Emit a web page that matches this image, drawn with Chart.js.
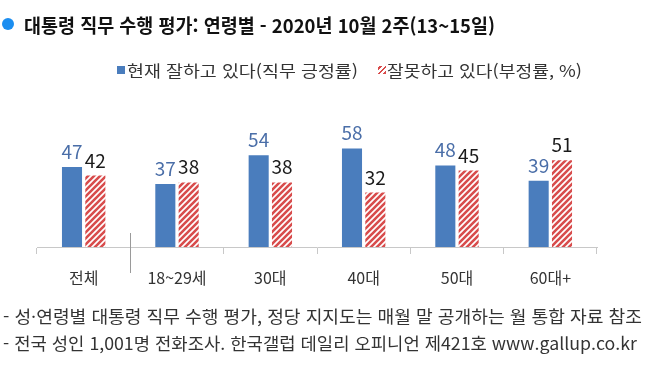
<!DOCTYPE html>
<html lang="ko">
<head>
<meta charset="utf-8">
<script src="https://cdn.jsdelivr.net/npm/chart.js@4"></script>
<style>
  html, body { margin: 0; padding: 0; background: #fff; }
  #wrap { position: relative; width: 648px; height: 368px; overflow: hidden; font-family: "Noto Sans CJK KR", "Noto Sans", sans-serif; }
  #chart { position: absolute; left: 0; top: 0; }
  .txt { position: absolute; white-space: nowrap; transform-origin: 0 50%; line-height: 1; }
  #dot { position: absolute; left: 2px; top: 18px; width: 12px; height: 12px; border-radius: 50%; background: #1c8ef0; }
  .sw { position: absolute; width: 8px; height: 8px; }
</style>
</head>
<body>
<div id="wrap">
  <canvas id="chart" width="648" height="368"></canvas>
  <div id="dot"></div>
  <div class="txt" id="title" data-w="471" style="left:24px; top:15px; font-size:19px; font-weight:bold; color:#111;"></div>
  <div class="sw" style="left:117px; top:66px; background:#4a7dbd;"></div>
  <div class="txt" id="leg1" data-w="231" style="left:127px; top:62px; font-size:16px; color:#333;"></div>
  <div class="sw" style="left:378px; top:66px; background:repeating-linear-gradient(135deg, #fff 0 1px, #d84c4c 1px 3px, #fff 3px 4px);"></div>
  <div class="txt" id="leg2" data-w="195" style="left:387px; top:62px; font-size:16px; color:#333;"></div>
  <div class="txt" id="note1" data-w="639" style="left:3px; top:307px; font-size:17px; color:#333;"></div>
  <div class="txt" id="note2" data-w="634" style="left:3px; top:334px; font-size:17px; color:#333;"></div>
</div>
<script>
// 데이터
const categories = ['전체', '18~29세', '30대', '40대', '50대', '60대+'];
const approve = [47, 37, 54, 58, 48, 39];
const disapprove = [42, 38, 38, 32, 45, 51];
const seriesNames = ['현재 잘하고 있다(직무 긍정률)', '잘못하고 있다(부정률, %)'];
const titleText = '대통령 직무 수행 평가: 연령별 - 2020년 10월 2주(13~15일)';
const notes = [
    '- 성·연령별 대통령 직무 수행 평가, 정당 지지도는 매월 말 공개하는 월 통합 자료 참조',
    '- 전국 성인 1,001명 전화조사. 한국갤럽 데일리 오피니언 제421호 www.gallup.co.kr'
];

const blue = '#4a7dbd';
const red = '#d84c4c';

// 텍스트 채우기 + 폭 맞추기
document.getElementById('title').textContent = titleText;
document.getElementById('leg1').textContent = seriesNames[0];
document.getElementById('leg2').textContent = seriesNames[1];
document.getElementById('note1').textContent = notes[0];
document.getElementById('note2').textContent = notes[1];
document.querySelectorAll('.txt').forEach(el => {
    const target = parseFloat(el.dataset.w);
    const w = el.getBoundingClientRect().width;
    if (w > 0) el.style.transform = 'scaleX(' + (target / w) + ')';
});

// 빗금 패턴
function makeHatch(color) {
    const s = 6;
    const c = document.createElement('canvas');
    c.width = s; c.height = s;
    const g = c.getContext('2d');
    g.fillStyle = '#fff';
    g.fillRect(0, 0, s, s);
    g.strokeStyle = color;
    g.lineWidth = 2.6;
    g.beginPath();
    g.moveTo(-1, s + 1); g.lineTo(s + 1, -1);
    g.moveTo(-1, 1); g.lineTo(1, -1);
    g.moveTo(s - 1, s + 1); g.lineTo(s + 1, s - 1);
    g.stroke();
    return g.createPattern(c, 'repeat');
}

// 막대 위 값 표시
const valueLabels = {
    id: 'valueLabels',
    afterDatasetsDraw(chart) {
        const ctx = chart.ctx;
        ctx.save();
        ctx.font = '19px "Noto Sans CJK KR", sans-serif';
        ctx.textAlign = 'center';
        ctx.textBaseline = 'alphabetic';
        chart.data.datasets.forEach((ds, i) => {
            ctx.fillStyle = ds.labelColor;
            chart.getDatasetMeta(i).data.forEach((bar, j) => {
                ctx.fillText(ds.data[j], bar.x, bar.y - 8);
            });
        });
        ctx.restore();
    }
};

// 전체 / 연령대 구분선
const separator = {
    id: 'separator',
    afterDraw(chart) {
        const xs = chart.scales.x;
        const x = Math.round((xs.getPixelForTick(0) + xs.getPixelForTick(1)) / 2) + 0.5;
        const b = chart.chartArea.bottom;
        const ctx = chart.ctx;
        ctx.save();
        ctx.strokeStyle = '#9a9a9a';
        ctx.lineWidth = 1;
        ctx.beginPath();
        ctx.moveTo(x, b - 14);
        ctx.lineTo(x, b + 26);
        ctx.stroke();
        ctx.restore();
    }
};

new Chart(document.getElementById('chart'), {
    type: 'bar',
    data: {
        labels: categories,
        datasets: [{
            label: seriesNames[0],
            data: approve,
            backgroundColor: blue,
            labelColor: '#4a6ea8',
            barPercentage: 0.86,
            categoryPercentage: 0.5
        }, {
            label: seriesNames[1],
            data: disapprove,
            backgroundColor: makeHatch(red),
            labelColor: '#1a1a1a',
            barPercentage: 0.86,
            categoryPercentage: 0.5
        }]
    },
    options: {
        responsive: false,
        animation: false,
        layout: { padding: { top: 128, left: 37, right: 51, bottom: 81 } },
        plugins: {
            legend: { display: false },
            tooltip: { enabled: false }
        },
        scales: {
            x: {
                afterFit: (scale) => { scale.height = 40; },
                grid: { drawOnChartArea: false, drawTicks: true, tickLength: 7, color: '#c8c8c8', offset: true },
                border: { display: true, color: '#c8c8c8' },
                ticks: { color: '#333', padding: 14, font: { size: 16, family: '"Noto Sans CJK KR", sans-serif' } }
            },
            y: { display: false, min: 0, max: 70 }
        }
    },
    plugins: [valueLabels, separator]
});
</script>
</body>
</html>
